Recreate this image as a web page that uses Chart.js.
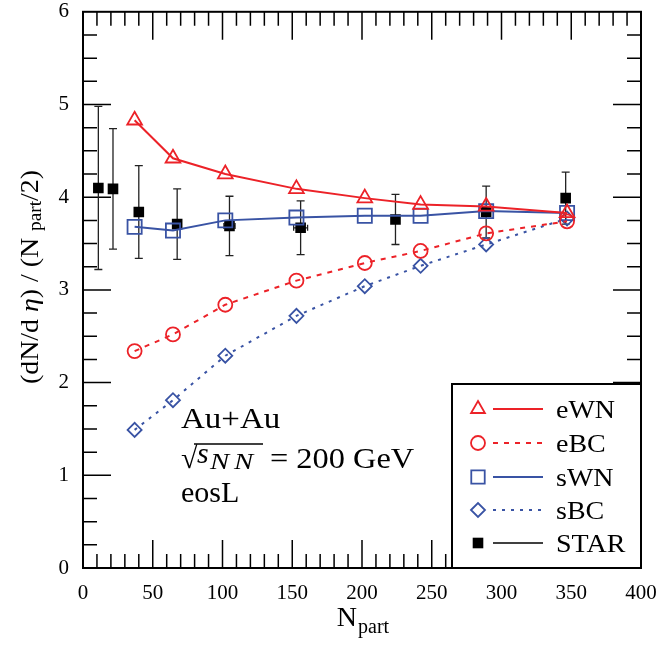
<!DOCTYPE html>
<html><head><meta charset="utf-8">
<script src="https://cdn.jsdelivr.net/npm/chart.js@4.4.1/dist/chart.umd.min.js"></script>
<style>html,body{margin:0;padding:0;background:#fff;}</style>
</head><body>
<canvas id="c" width="659" height="647" style="display:block"></canvas>
<script>
// ---- data ----
const nModel = [37, 64.5, 102, 153, 202, 242, 289, 347];
const eWN = [4.83, 4.42, 4.25, 4.09, 3.99, 3.92, 3.90, 3.83];
const eBC = [2.34, 2.52, 2.84, 3.10, 3.29, 3.42, 3.61, 3.74];
const sWN = [3.68, 3.64, 3.75, 3.78, 3.80, 3.80, 3.85, 3.83];
const sBC = [1.49, 1.81, 2.29, 2.72, 3.04, 3.26, 3.49, 3.77];
const starN = [11, 21.5, 40, 67.5, 105, 156, 224, 289, 346];
const starY = [4.10, 4.09, 3.84, 3.71, 3.69, 3.67, 3.76, 3.84, 3.99];
const starErr = [0.88, 0.65, 0.50, 0.38, 0.32, 0.29, 0.27, 0.28, 0.28];
const starXErr = [0, 0, 0, 3, 4, 5, 0, 0, 0];
const xTicks = [0, 50, 100, 150, 200, 250, 300, 350, 400];
const yTicks = [0, 1, 2, 3, 4, 5, 6];
const legendLabels = ['eWN', 'eBC', 'sWN', 'sBC', 'STAR'];

const FONT = '"Liberation Serif", "Times New Roman", serif';
const RED = '#ec2228';
const BLUE = '#3953a4';
const pts = (xs, ys) => xs.map((x, i) => ({x, y: ys[i]}));

function sText(ctx, str, x, y, sx) {
  ctx.save(); ctx.translate(x, y); ctx.scale(sx, 1); ctx.fillText(str, 0, 0); ctx.restore();
  return ctx.measureText(str).width * sx;
}

const frame = {
  id: 'frame',
  beforeDatasetsDraw(chart) {
    const ctx = chart.ctx, a = chart.chartArea, xs = chart.scales.x, ys = chart.scales.y;
    ctx.save();
    ctx.strokeStyle = '#000';
    ctx.lineWidth = 1.5;
    ctx.beginPath();
    for (let v = 10; v < 400; v += 10) {
      const p = xs.getPixelForValue(v), len = v % 50 === 0 ? 28 : 14;
      ctx.moveTo(p, a.bottom); ctx.lineTo(p, a.bottom - len);
      ctx.moveTo(p, a.top); ctx.lineTo(p, a.top + len);
    }
    for (let v = 0.25; v < 6; v += 0.25) {
      const p = ys.getPixelForValue(v), len = Math.abs(v - Math.round(v)) < 1e-6 ? 28 : 14;
      ctx.moveTo(a.left, p); ctx.lineTo(a.left + len, p);
      ctx.moveTo(a.right, p); ctx.lineTo(a.right - len, p);
    }
    ctx.stroke();
    ctx.lineWidth = 2;
    ctx.strokeRect(a.left, a.top, a.right - a.left, a.bottom - a.top);
    // STAR error bars
    ctx.strokeStyle = '#222';
    ctx.lineWidth = 1.3;
    ctx.beginPath();
    starN.forEach((n, i) => {
      const px = xs.getPixelForValue(n);
      const y1 = ys.getPixelForValue(starY[i] + starErr[i]);
      const y2 = ys.getPixelForValue(starY[i] - starErr[i]);
      ctx.moveTo(px, y1); ctx.lineTo(px, y2);
      ctx.moveTo(px - 4, y1); ctx.lineTo(px + 4, y1);
      ctx.moveTo(px - 4, y2); ctx.lineTo(px + 4, y2);
      if (starXErr[i] > 0) {
        const py = ys.getPixelForValue(starY[i]);
        const x1 = xs.getPixelForValue(n - starXErr[i]);
        const x2 = xs.getPixelForValue(n + starXErr[i]);
        ctx.moveTo(x1, py); ctx.lineTo(x2, py);
        ctx.moveTo(x1, py - 3); ctx.lineTo(x1, py + 3);
        ctx.moveTo(x2, py - 3); ctx.lineTo(x2, py + 3);
      }
    });
    ctx.stroke();
    ctx.restore();
  },
  afterDatasetsDraw(chart) {
    const ctx = chart.ctx, a = chart.chartArea;
    ctx.save();
    ctx.fillStyle = '#000';
    ctx.strokeStyle = '#000';
    ctx.textBaseline = 'alphabetic';
    ctx.textAlign = 'left';
    // annotation
    const ax = a.left + 98;
    ctx.font = '30px ' + FONT;
    sText(ctx, 'Au+Au', ax, 428, 1.1);
    sText(ctx, '√', ax, 468, 1.0);
    ctx.font = 'italic 30px ' + FONT;
    sText(ctx, 's', ax + 16, 463, 1.0);
    ctx.font = 'italic 24px ' + FONT;
    sText(ctx, 'N', ax + 29, 469, 1.2);
    sText(ctx, 'N', ax + 53, 469, 1.2);
    ctx.lineWidth = 1.4;
    ctx.beginPath(); ctx.moveTo(ax + 13, 444); ctx.lineTo(ax + 82, 444); ctx.stroke();
    ctx.font = '30px ' + FONT;
    sText(ctx, '= 200 GeV', ax + 89, 468, 1.08);
    sText(ctx, 'eosL', ax, 502, 1.0);

    // legend
    const bw = 189, bh = 184;
    const bx = a.right - bw, by = a.bottom - bh;
    ctx.fillStyle = '#fff';
    ctx.fillRect(bx, by, bw, bh);
    ctx.lineWidth = 2;
    ctx.strokeRect(bx, by, bw, bh);
    const rows = [25, 59, 93, 126, 159];
    const ds = chart.data.datasets;
    const legSizes = [8, 7, 9.5, 7, 7.5];
    ds.forEach((d, i) => {
      const cy = by + rows[i];
      ctx.save();
      ctx.strokeStyle = d.pointBorderColor;
      ctx.fillStyle = d.pointBackgroundColor;
      ctx.lineWidth = d.pointBorderWidth || 1;
      Chart.helpers.drawPoint(ctx, {pointStyle: d.pointStyle, radius: legSizes[i], rotation: 0, borderWidth: d.pointBorderWidth}, bx + 26, cy);
      ctx.restore();
      ctx.save();
      ctx.strokeStyle = i === 4 ? '#000' : d.borderColor;
      ctx.lineWidth = i === 4 ? 1.3 : 2;
      ctx.setLineDash(d.borderDash || []);
      ctx.beginPath(); ctx.moveTo(bx + 41, cy); ctx.lineTo(bx + 91, cy); ctx.stroke();
      ctx.restore();
      ctx.fillStyle = '#000';
      ctx.font = '25px ' + FONT;
      sText(ctx, legendLabels[i], bx + 104, cy + 9, 1.12);
    });

    // axis titles
    ctx.fillStyle = '#000';
    const yParts = [['(dN/d ', '26px '], ['η', 'italic 26px '], [') / (N ', '26px '], ['part', '18px '], ['/2)', '26px ']];
    let tw = 0;
    yParts.forEach(p => { ctx.font = p[1] + FONT; tw += ctx.measureText(p[0]).width; });
    const ysx = 214 / tw;
    ctx.save();
    ctx.translate(38, 277);
    ctx.rotate(-Math.PI / 2);
    ctx.scale(ysx, 1);
    let x = -tw / 2;
    yParts.forEach(p => {
      ctx.font = p[1] + FONT;
      ctx.fillText(p[0], x, p[0] === 'part' ? 3 : 0);
      x += ctx.measureText(p[0]).width;
    });
    ctx.restore();
    ctx.font = '28px ' + FONT;
    const nW = ctx.measureText('N').width;
    ctx.font = '20px ' + FONT;
    const pW = ctx.measureText('part').width;
    const cx = a.left + (a.right - a.left) / 2 + 1;
    const x0 = cx - (nW + pW + 1) / 2;
    ctx.font = '28px ' + FONT;
    ctx.fillText('N', x0, 626);
    ctx.font = '20px ' + FONT;
    ctx.fillText('part', x0 + nW + 1, 633);
    ctx.restore();
  }
};

new Chart(document.getElementById('c'), {
  type: 'scatter',
  data: {
    datasets: [
      {label: 'eWN', data: pts(nModel, eWN), showLine: true, borderColor: RED, borderWidth: 2,
       pointStyle: 'triangle', pointRadius: 8.5, pointBorderColor: RED, pointBackgroundColor: 'rgba(0,0,0,0)', pointBorderWidth: 1.8},
      {label: 'eBC', data: pts(nModel, eBC), showLine: true, borderColor: RED, borderWidth: 2, borderDash: [5, 6],
       pointStyle: 'circle', pointRadius: 7, pointBorderColor: RED, pointBackgroundColor: 'rgba(0,0,0,0)', pointBorderWidth: 1.8},
      {label: 'sWN', data: pts(nModel, sWN), showLine: true, borderColor: BLUE, borderWidth: 2,
       pointStyle: 'rect', pointRadius: 10, pointBorderColor: BLUE, pointBackgroundColor: 'rgba(0,0,0,0)', pointBorderWidth: 1.8},
      {label: 'sBC', data: pts(nModel, sBC), showLine: true, borderColor: BLUE, borderWidth: 2, borderDash: [3, 6],
       pointStyle: 'rectRot', pointRadius: 7, pointBorderColor: BLUE, pointBackgroundColor: 'rgba(0,0,0,0)', pointBorderWidth: 1.8},
      {label: 'STAR', data: pts(starN, starY), showLine: false,
       pointStyle: 'rect', pointRadius: 7.5, pointBorderColor: '#000', pointBackgroundColor: '#000', pointBorderWidth: 0}
    ]
  },
  options: {
    responsive: false, animation: false, devicePixelRatio: 1,
    plugins: {legend: {display: false}, tooltip: {enabled: false}},
    layout: {padding: {top: 9, right: 18, left: 0, bottom: 0}},
    scales: {
      x: {type: 'linear', min: 0, max: 400,
          afterBuildTicks(s) { s.ticks = xTicks.map(v => ({value: v})); },
          ticks: {font: {family: FONT, size: 21}, color: '#000', padding: 13, maxRotation: 0, autoSkip: false},
          grid: {display: false, drawTicks: false}, border: {display: false},
          afterFit(s) { s.height = 79; s.paddingLeft = 0; s.paddingRight = 0; }},
      y: {type: 'linear', min: 0, max: 6,
          afterBuildTicks(s) { s.ticks = yTicks.map(v => ({value: v})); },
          ticks: {font: {family: FONT, size: 21}, color: '#000', padding: 14, autoSkip: false},
          grid: {display: false, drawTicks: false}, border: {display: false},
          afterFit(s) { s.width = 83; s.paddingTop = 0; s.paddingBottom = 0; }}
    }
  },
  plugins: [frame]
});
</script>
</body></html>
